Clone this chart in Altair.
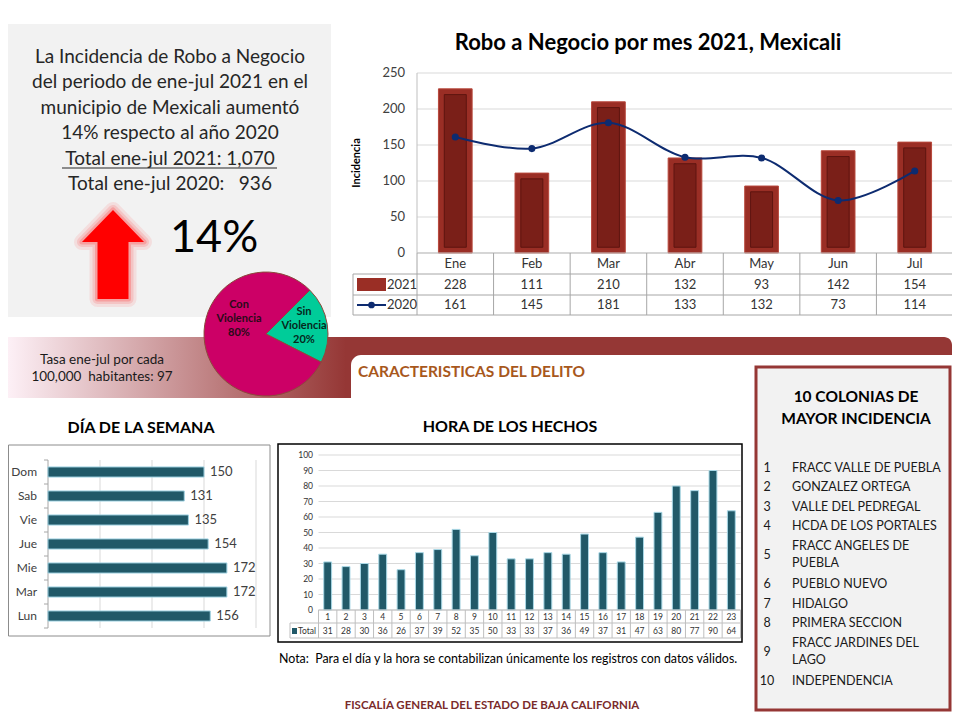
import math
import altair as alt
import pandas as pd

FONT = "Lato"
W, H = 944, 704


def X(v):
    return v - 8


def Y(v):
    return v - 8


# ------------------------------------------------------------------ data
intro_lines = [
    "La Incidencia de Robo a Negocio",
    "del periodo de ene-jul 2021 en el",
    "municipio de Mexicali aumentó",
    "14% respecto al año 2020",
    "Total ene-jul 2021: 1,070",
    "Total ene-jul 2020:\u00a0\u00a0 936",
]
pct_change = "14%"
tasa_lines = ["Tasa ene-jul por cada", "100,000\u00a0 habitantes: 97"]
section_title = "CARACTERISTICAS DEL DELITO"

pie_labels = ["Sin Violencia", "Con Violencia"]
pie_vals = [20, 80]

month_title = "Robo a Negocio por mes 2021, Mexicali"
months = ["Ene", "Feb", "Mar", "Abr", "May", "Jun", "Jul"]
v2021 = [228, 111, 210, 132, 93, 142, 154]
v2020 = [161, 145, 181, 133, 132, 73, 114]
month_ticks = [0, 50, 100, 150, 200, 250]

days = ["Dom", "Sab", "Vie", "Jue", "Mie", "Mar", "Lun"]
day_vals = [150, 131, 135, 154, 172, 172, 156]
day_ticks = [0, 50, 100, 150, 200]

hours = [str(h) for h in range(1, 24)]
hour_vals = [31, 28, 30, 36, 26, 37, 39, 52, 35, 50, 33, 33, 37, 36, 49, 37, 31,
             47, 63, 80, 77, 90, 64]
hour_ticks = [0, 10, 20, 30, 40, 50, 60, 70, 80, 90, 100]

colonias_title = "10 COLONIAS DE\nMAYOR INCIDENCIA"
colonias = [
    "FRACC VALLE DE PUEBLA",
    "GONZALEZ ORTEGA",
    "VALLE DEL PEDREGAL",
    "HCDA DE LOS PORTALES",
    "FRACC ANGELES DE\nPUEBLA",
    "PUEBLO NUEVO",
    "HIDALGO",
    "PRIMERA SECCION",
    "FRACC JARDINES DEL\nLAGO",
    "INDEPENDENCIA",
]
nota = "Nota:\u00a0 Para el día y la hora se contabilizan únicamente los registros con datos válidos."
footer = "FISCALÍA GENERAL DEL ESTADO DE BAJA CALIFORNIA"

# ------------------------------------------------------------------ helpers
one = pd.DataFrame({"k": [0]})
layers = []


def rect(x1, y1, x2, y2, **kw):
    return alt.Chart(one).mark_rect(**kw).encode(
        x=alt.value(X(x1)), x2=alt.value(X(x2)), y=alt.value(Y(y1)), y2=alt.value(Y(y2)))


def hline(x1, x2, y, color, w=1):
    return alt.Chart(one).mark_rule(color=color, strokeWidth=w).encode(
        x=alt.value(X(x1)), x2=alt.value(X(x2)), y=alt.value(Y(y)))


def vline(x, y1, y2, color, w=1):
    return alt.Chart(one).mark_rule(color=color, strokeWidth=w).encode(
        x=alt.value(X(x)), y=alt.value(Y(y1)), y2=alt.value(Y(y2)))


def label(text, x, y, size=12, weight="normal", color="#000000", align="center", **kw):
    # for multi-line text, y is the centre of the first line
    return alt.Chart(pd.DataFrame({"t": [text]})).mark_text(
        align=align, baseline="middle", fontSize=size, fontWeight=weight,
        color=color, font=FONT, **kw
    ).encode(x=alt.value(X(x)), y=alt.value(Y(y)), text="t:N")


# ------------------------------------------------------------------ backgrounds
layers.append(rect(8, 24, 331, 317, color="#f2f2f2"))
layers.append(rect(8, 337, 346, 398, color=alt.LinearGradient(
    gradient="linear",
    stops=[alt.GradientStop(color="#fdf0f6", offset=0),
           alt.GradientStop(color="#953735", offset=1)],
    x1=0, x2=1, y1=0, y2=0)))
layers.append(rect(345, 337, 952, 398, color="#953735", cornerRadiusTopRight=8))
layers.append(rect(351, 355, 952, 399, color="#ffffff", cornerRadiusTopLeft=10))
layers.append(rect(756, 367, 950, 710, fill="#f2f2f2", stroke="#953735", strokeWidth=3))
layers.append(rect(8.5, 445, 270, 636, fill="#ffffff", stroke="#8c8c8c", strokeWidth=1))
layers.append(rect(278, 444, 742, 642, fill="#ffffff", stroke="#000000", strokeWidth=1.5))

# ------------------------------------------------------------------ intro box
layers.append(label("\n".join(intro_lines), 170, 57, size=19, color="#262626",
                    lineBreak="\n", lineHeight=25.4))
layers.append(hline(62, 277, 168, "#262626", 1.2))
layers.append(label(pct_change, 170, 238, size=45, align="left", color="#000000"))

ARROW = ("M 0 -1 L 0.697 -0.281 L 0.348 -0.281 L 0.348 1 L -0.348 1 "
         "L -0.348 -0.281 L -0.697 -0.281 Z")
for sw, op in [(16, 0.10), (10, 0.15), (5, 0.25)]:
    layers.append(alt.Chart(one).mark_point(
        shape=ARROW, size=7921, filled=True, fill="#ff0000", fillOpacity=0,
        stroke="#ff3030", strokeWidth=sw, strokeOpacity=op, strokeJoin="round"
    ).encode(x=alt.value(X(113)), y=alt.value(Y(254.5))))
layers.append(alt.Chart(one).mark_point(
    shape=ARROW, size=7921, filled=True, fill="#ff0000", opacity=1
).encode(x=alt.value(X(113)), y=alt.value(Y(254.5))))

# ------------------------------------------------------------------ tasa + section
layers.append(label("\n".join(tasa_lines), 102, 360, size=13.5, color="#1a1a1a",
                    lineBreak="\n", lineHeight=17))
layers.append(label(section_title, 358, 372, size=15.5, weight="bold", color="#a8581c",
                    align="left"))

# ------------------------------------------------------------------ pie
df_p = pd.DataFrame({"tipo": pie_labels, "pct": pie_vals, "ord": [0, 1]})
layers.append(alt.Chart(df_p).mark_arc(radius=62, stroke="#8c4a3c", strokeWidth=1).encode(
    theta=alt.Theta("pct:Q", stack=True,
                    scale=alt.Scale(range=[math.pi / 4, math.pi / 4 + 2 * math.pi])),
    color=alt.Color("tipo:N", scale=alt.Scale(domain=pie_labels,
                                              range=["#00cc99", "#cc0066"]), legend=None),
    order=alt.Order("ord:Q"),
    x=alt.value(X(266)), y=alt.value(Y(334)),
))
pie_txt = [f"{lab.replace(' ', chr(10))}\n{v}%" for lab, v in zip(pie_labels, pie_vals)]
layers.append(label(pie_txt[1], 239, 305, size=11, weight="bold", color="#2a0a18",
                    lineBreak="\n", lineHeight=14))
layers.append(label(pie_txt[0], 304, 312, size=11, weight="bold", color="#06281c",
                    lineBreak="\n", lineHeight=14))

# ------------------------------------------------------------------ monthly chart
df_m = pd.DataFrame({"mes": months, "v2021": v2021, "v2020": v2020})
mx = alt.Scale(domain=months, range=[X(417), X(953)], paddingInner=0.56, paddingOuter=0.28)
my = alt.Scale(domain=[0, 250], range=[Y(253), Y(73)], nice=False, zero=False)
bx = alt.Scale(domain=[0, len(months)], range=[X(417), X(953)], nice=False)
df_mt = pd.DataFrame({"t": month_ticks})
df_mb = pd.DataFrame({"i": list(range(len(months) + 1))})
mxe = alt.X("mes:N", scale=mx, sort=months, axis=None)

layers.append(alt.Chart(df_mt).mark_rule(color="#d9d9d9").encode(
    y=alt.Y("t:Q", scale=my, axis=None), x=alt.value(X(417)), x2=alt.value(X(953))))
layers.append(alt.Chart(df_mt).mark_text(align="right", baseline="middle", fontSize=13,
                                          font=FONT, color="#404040").encode(
    y=alt.Y("t:Q", scale=my, axis=None), x=alt.value(X(405)), text="t:Q"))
layers.append(vline(417, 73, 253, "#bfbfbf"))
layers.append(label("Incidencia", 357, 163, size=11, weight="bold", angle=270))
layers.append(label(month_title, 648, 43, size=22, weight="bold"))

layers.append(alt.Chart(df_m).mark_bar(color="#9a2e25", stroke="#b8483c", strokeWidth=1).encode(
    x=mxe, y=alt.Y("v2021:Q", scale=my, axis=None)))
layers.append(alt.Chart(df_m).transform_calculate(
    top="datum.v2021 - 8", bot="8"
).mark_bar(width=22, color="#7a1f18", stroke="#5e1510", strokeWidth=1).encode(
    x=mxe, y=alt.Y("top:Q", scale=my, axis=None), y2="bot:Q"))
layers.append(alt.Chart(df_m).mark_line(interpolate="catmull-rom", color="#0d2b70",
                                         strokeWidth=2).encode(
    x=mxe, y=alt.Y("v2020:Q", scale=my, axis=None)))
layers.append(alt.Chart(df_m).mark_circle(size=50, color="#0d2b70", opacity=1).encode(
    x=mxe, y=alt.Y("v2020:Q", scale=my, axis=None)))

# data table
layers.append(hline(417, 953, 253, "#bfbfbf"))
for yy in (274, 295, 315):
    layers.append(hline(353, 953, yy, "#a6a6a6"))
layers.append(vline(353, 274, 315, "#a6a6a6"))
layers.append(alt.Chart(df_mb).mark_rule(color="#a6a6a6").encode(
    x=alt.X("i:Q", scale=bx, axis=None), y=alt.value(Y(253)), y2=alt.value(Y(315))))
for fld, yy in (("mes:N", 263.5), ("v2021:Q", 285), ("v2020:Q", 305)):
    layers.append(alt.Chart(df_m).mark_text(baseline="middle", fontSize=13, font=FONT,
                                             color="#333333").encode(
        x=mxe, y=alt.value(Y(yy)), text=fld))
layers.append(rect(357, 278, 386, 291, color="#9a2e25"))
layers.append(hline(357, 386, 305, "#0d2b70", 2))
layers.append(alt.Chart(one).mark_circle(size=45, color="#0d2b70", opacity=1).encode(
    x=alt.value(X(371.5)), y=alt.value(Y(305))))
layers.append(label("2021", 387, 285, size=13, align="left", color="#333333"))
layers.append(label("2020", 387, 305, size=13, align="left", color="#333333"))

# ------------------------------------------------------------------ day of week
layers.append(label("DÍA DE LA SEMANA", 141, 428, size=16, weight="bold"))
df_d = pd.DataFrame({"dia": days, "n": day_vals})
dyS = alt.Scale(domain=days, range=[Y(460), Y(628)], paddingInner=0.58, paddingOuter=0.29)
dxS = alt.Scale(domain=[0, 200], range=[X(48), X(256)], nice=False, zero=False)
dbS = alt.Scale(domain=[0, len(days)], range=[Y(460), Y(628)], nice=False)
dye = alt.Y("dia:N", scale=dyS, sort=days, axis=None)
layers.append(alt.Chart(pd.DataFrame({"t": day_ticks[1:]})).mark_rule(color="#d9d9d9").encode(
    x=alt.X("t:Q", scale=dxS, axis=None), y=alt.value(Y(460)), y2=alt.value(Y(628))))
layers.append(vline(48, 460, 628, "#a6a6a6"))
layers.append(alt.Chart(pd.DataFrame({"i": list(range(len(days) + 1))})).mark_rule(
    color="#a6a6a6").encode(
    y=alt.Y("i:Q", scale=dbS, axis=None), x=alt.value(X(44)), x2=alt.value(X(48))))
layers.append(alt.Chart(df_d).mark_bar(color="#215968", stroke="#9dd0e0", strokeWidth=1).encode(
    y=dye, x=alt.X("n:Q", scale=dxS, axis=None)))
layers.append(alt.Chart(df_d).mark_text(align="right", baseline="middle", fontSize=12,
                                         font=FONT, color="#404040").encode(
    y=dye, x=alt.value(X(37)), text="dia:N"))
layers.append(alt.Chart(df_d).mark_text(align="left", baseline="middle", fontSize=13,
                                         font=FONT, color="#404040", dx=6).encode(
    y=dye, x=alt.X("n:Q", scale=dxS, axis=None), text="n:Q"))

# ------------------------------------------------------------------ hour of day
layers.append(label("HORA DE LOS HECHOS", 510, 427, size=16, weight="bold"))
df_h = pd.DataFrame({"h": hours, "n": hour_vals})
hxS = alt.Scale(domain=hours, range=[X(318.5), X(740.5)], paddingInner=0.57, paddingOuter=0.285)
hyS = alt.Scale(domain=[0, 100], range=[Y(610), Y(455)], nice=False, zero=False)
hbS = alt.Scale(domain=[0, len(hours)], range=[X(318.5), X(740.5)], nice=False)
hxe = alt.X("h:N", scale=hxS, sort=hours, axis=None)
df_ht = pd.DataFrame({"t": hour_ticks})
layers.append(alt.Chart(df_ht).mark_rule(color="#d9d9d9").encode(
    y=alt.Y("t:Q", scale=hyS, axis=None), x=alt.value(X(318.5)), x2=alt.value(X(740.5))))
layers.append(alt.Chart(df_ht).mark_text(align="right", baseline="middle", fontSize=8.5,
                                          font=FONT, color="#333333").encode(
    y=alt.Y("t:Q", scale=hyS, axis=None), x=alt.value(X(313)), text="t:Q"))
layers.append(alt.Chart(df_h).mark_bar(color="#215968", stroke="#a9d8e6", strokeWidth=1).encode(
    x=hxe, y=alt.Y("n:Q", scale=hyS, axis=None)))
layers.append(hline(318.5, 740.5, 610, "#bfbfbf"))
layers.append(hline(290, 740.5, 623, "#bfbfbf"))
layers.append(hline(290, 740.5, 638, "#bfbfbf"))
layers.append(vline(290, 623, 638, "#bfbfbf"))
layers.append(alt.Chart(pd.DataFrame({"i": list(range(len(hours) + 1))})).mark_rule(
    color="#bfbfbf").encode(
    x=alt.X("i:Q", scale=hbS, axis=None), y=alt.value(Y(610)), y2=alt.value(Y(638))))
for fld, yy in (("h:N", 617), ("n:Q", 631)):
    layers.append(alt.Chart(df_h).mark_text(baseline="middle", fontSize=8.5, font=FONT,
                                             color="#333333").encode(
        x=hxe, y=alt.value(Y(yy)), text=fld))
layers.append(rect(292, 628, 297, 634, color="#215968"))
layers.append(label("Total", 298, 631, size=8.5, align="left", color="#333333"))
layers.append(label(nota, 279, 659, size=12.4, align="left", color="#000000"))

# ------------------------------------------------------------------ colonias list
layers.append(label(colonias_title, 856, 397, size=15.5, weight="bold", color="#000000",
                    lineBreak="\n", lineHeight=22))
slots, cur = [], 0
for c in colonias:
    nl = c.count("\n") + 1
    slots.append(cur)
    cur += nl
df_c = pd.DataFrame({"rank": [str(i + 1) for i in range(len(colonias))],
                     "name": colonias, "slot": slots,
                     "nslot": [s + (c.count("\n")) / 2 for s, c in zip(slots, colonias)]})
cyS = alt.Scale(domain=[0, 11], range=[Y(468), Y(681.4)], nice=False, zero=False)
layers.append(alt.Chart(df_c).mark_text(align="center", baseline="middle", fontSize=12.5,
                                         font=FONT, color="#1a1a1a").encode(
    y=alt.Y("nslot:Q", scale=cyS, axis=None), x=alt.value(X(767)), text="rank:N"))
layers.append(alt.Chart(df_c).mark_text(align="left", baseline="middle", fontSize=12.5,
                                         font=FONT, color="#1a1a1a", lineBreak="\n",
                                         lineHeight=17).encode(
    y=alt.Y("slot:Q", scale=cyS, axis=None), x=alt.value(X(792)), text="name:N"))

# ------------------------------------------------------------------ footer
layers.append(label(footer, 492, 706, size=11.5, weight="bold", color="#7a2b2b"))

chart = alt.layer(*layers).resolve_scale(
    x="independent", y="independent", color="independent", theta="independent"
).properties(
    width=W, height=H, autosize=alt.AutoSizeParams(type="none"), padding=0,
    background="#ffffff"
).configure_view(strokeWidth=0)

chart.save("out.html", embed_options={"renderer": "svg", "actions": False})
